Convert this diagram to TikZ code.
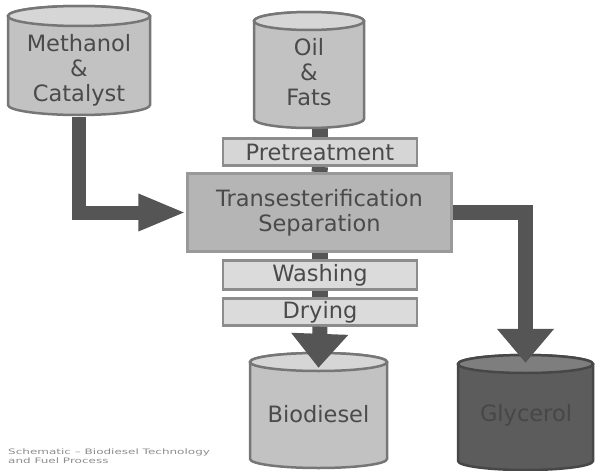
\documentclass[tikz,border=0pt]{standalone}
\usepackage{fontspec}
\setmainfont{DejaVu Sans}
\usetikzlibrary{arrows.meta,backgrounds}
\definecolor{txt}{HTML}{4A4A4A}
\definecolor{arrc}{HTML}{555555}
\definecolor{cylfill}{HTML}{C2C2C2}
\definecolor{cylline}{HTML}{767676}
\definecolor{cyltop}{HTML}{D6D6D6}
\definecolor{darkfill}{HTML}{5C5C5C}
\definecolor{darkline}{HTML}{474747}
\definecolor{darktop}{HTML}{7E7E7E}
\newcommand\mycyl[6]{% x1, x2, ytop centre, ybottom centre, ry, prefix
  \pgfmathsetmacro\rx{(#2-#1)/2}
  \path[fill=#6fill, draw=#6line, line width=2.5pt]
    (#1,#3) -- (#1,#4) arc[start angle=180,end angle=0,x radius=\rx,y radius=#5]
    -- (#2,#3) arc[start angle=0,end angle=-180,x radius=\rx,y radius=#5] -- cycle;
  \path[fill=#6top, draw=#6line, line width=2.5pt]
    ({(#1+#2)/2},#3) ellipse[x radius=\rx, y radius=#5];
}
\tikzset{
  lbl/.style={font=\fontsize{22.5}{25}\selectfont, text=txt, align=center, inner sep=0pt},
  body/.style={rectangle, inner sep=0pt},
  procbox/.style={rectangle, draw=#1, line width=2.5pt, inner sep=0pt,
    font=\fontsize{22.5}{25}\selectfont, text=txt, align=center},
  link/.style={draw=arrc, line width=16pt},
  arrA/.style={draw=arrc, line width=14pt, -{Triangle[width=34pt,length=48pt]}},
  arrB/.style={draw=arrc, line width=15pt, line join=miter, -{Triangle[width=55pt,length=34pt]}},
}
\begin{document}
\begin{tikzpicture}[x=1pt,y=-1pt]
\useasboundingbox (0,0) rectangle (595,471);
% cylinders
\mycyl{8}{150}{16}{105}{10}{cyl}
\mycyl{254}{364}{21}{119}{9}{cyl}
\mycyl{250}{387}{362}{459}{9}{cyl}
\mycyl{458}{593}{364}{461}{9}{dark}
% cylinder body nodes (text)
\node[body, minimum width=142pt, minimum height=89pt] (meth) at (79,60.5) {};
\node[body, minimum width=110pt, minimum height=98pt] (oil) at (309,70) {};
\node[body, minimum width=137pt, minimum height=94pt] (bio) at (318.5,415) {};
\node[body, minimum width=135pt, minimum height=98pt] (glyc) at (525.5,412) {};
\node[lbl] (methtxt) at (79,70) {Methanol\\\&\\Catalyst};
\node[lbl] (oiltxt) at (309,72) {Oil\\\&\\Fats};
\node[lbl] (biotxt) at (318.5,414) {Biodiesel};
\node[lbl, text=darkline] (glyctxt) at (526,415) {Glycerol};
% process boxes
\node[procbox=black!45, fill=black!16, minimum width=194pt, minimum height=27pt] (pre) at (320,152) {Pretreatment};
\node[procbox=black!40, fill=black!29, minimum width=264pt, minimum height=78pt] (trans) at (319.5,212.5) {Transesterification\\Separation};
\node[procbox=black!45, fill=black!14, minimum width=194pt, minimum height=29pt] (wash) at (320,275) {Washing};
\node[procbox=black!45, fill=black!14, minimum width=194pt, minimum height=27pt] (dry) at (320,312) {Drying};
% links
\begin{pgfonlayer}{background}
\path[link] (pre.north |- oil.south) -- (pre.north);
\path[link] (pre.south) -- (trans.north);
\path[link] (trans.south -| wash.north) -- (wash.north);
\path[link] (wash.south) -- (dry.north);
\end{pgfonlayer}
% arrows
\path[arrA] ([yshift=-12pt]meth.south) |- (trans.west);
\path[arrB] (trans.east) -| (glyc.north);
\path[arrB] (dry.south) -- (bio.north);
% caption
\node[anchor=north west, text=black!45, align=left, inner sep=0pt] (cap) at (8,448) {\scalebox{1.6}[1]{\fontsize{7.5}{9}\selectfont\begin{tabular}{@{}l@{}}Schematic -- Biodiesel Technology\\and Fuel Process\end{tabular}}};
\end{tikzpicture}
\end{document}
